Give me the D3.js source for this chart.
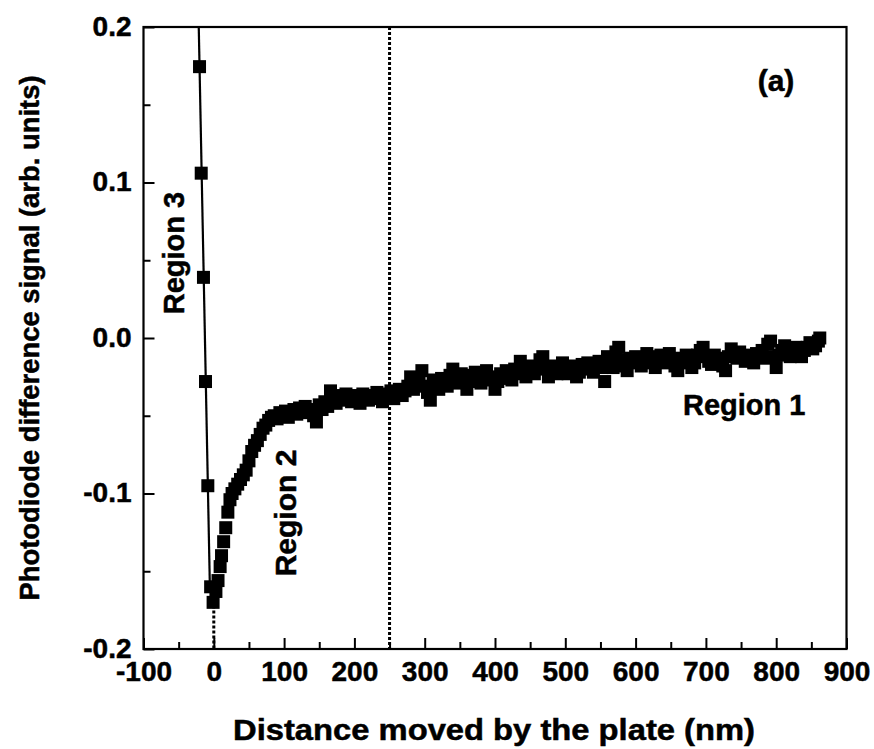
<!DOCTYPE html>
<html>
<head>
<meta charset="utf-8">
<script src="https://cdn.jsdelivr.net/npm/d3@7"></script>
<style>
  body { margin: 0; background: #fff; }
  svg { display: block; }
  text { font-family: "Liberation Sans", Arial, Helvetica, sans-serif; font-weight: bold; fill: #000; stroke: #000; stroke-width: 0.5px; }
</style>
</head>
<body>
<svg id="chart" width="874" height="749"></svg>
<script>
// Region 3: steep branch before contact (nm, arb. units)
const region3X = [-20.3, -17.9, -14.7, -11.8, -8.5, -4.5];
const region3Y = [0.1745, 0.106, 0.039, -0.028, -0.095, -0.160];

// straight fit through region 3
const fitX = [-21.4, -5.6];
const fitY = [0.2, -0.16];

// Region 2 (rise after contact)
const region2X = [
  -1, 3, 6, 9, 11, 14, 17, 20, 23, 26, 30, 34, 38, 42, 46, 50, 54, 58, 62, 66,
  70, 74, 78, 82, 86, 90, 94, 98, 102, 106, 110, 114, 118, 122, 126, 130, 134, 138, 142, 146,
  150, 154, 158, 162, 166, 170, 174, 177
];
const region2Y = [
  -0.170, -0.163, -0.156, -0.147, -0.140, -0.131, -0.122, -0.112, -0.104, -0.100, -0.097, -0.094, -0.091, -0.088, -0.085, -0.079, -0.073, -0.069, -0.066, -0.062,
  -0.058, -0.056, -0.053, -0.051, -0.050, -0.052, -0.048, -0.050, -0.047, -0.051, -0.048, -0.046, -0.049, -0.045, -0.047, -0.044, -0.048, -0.046, -0.050, -0.054,
  -0.043, -0.046, -0.041, -0.044, -0.034, -0.039, -0.042, -0.038
];

// Region 1 (slow drift)
const region1X = [
  180, 184, 188, 192, 196, 200, 204, 208, 212, 216, 220, 224, 228, 232, 236, 240, 244, 248, 252, 256,
  260, 264, 268, 272, 276, 280, 284, 288, 292, 296, 300, 304, 308, 312, 316, 320, 324, 328, 332, 336,
  340, 344, 348, 352, 356, 360, 364, 368, 372, 376, 380, 384, 388, 392, 396, 400, 404, 408, 412, 416,
  420, 424, 428, 432, 436, 440, 444, 448, 452, 456, 460, 464, 468, 472, 476, 480, 484, 488, 492, 496,
  500, 504, 508, 512, 516, 520, 524, 528, 532, 536, 540, 544, 548, 552, 556, 560, 564, 568, 572, 576,
  580, 584, 588, 592, 596, 600, 604, 608, 612, 616, 620, 624, 628, 632, 636, 640, 644, 648, 652, 656,
  660, 664, 668, 672, 676, 680, 684, 688, 692, 696, 700, 704, 708, 712, 716, 720, 724, 728, 732, 736,
  740, 744, 748, 752, 756, 760, 764, 768, 772, 776, 780, 784, 788, 792, 796, 800, 804, 808, 812, 816,
  820, 824, 828, 832, 836, 840, 844, 848, 852, 856, 860, 862
];
const region1Y = [
  -0.037, -0.040, -0.036, -0.039, -0.041, -0.037, -0.039, -0.042, -0.036, -0.038, -0.040, -0.037, -0.039, -0.035, -0.038, -0.041, -0.036, -0.038, -0.034, -0.039,
  -0.036, -0.033, -0.037, -0.034, -0.031, -0.025, -0.033, -0.030, -0.028, -0.021, -0.031, -0.035, -0.040, -0.027, -0.030, -0.033, -0.026, -0.029, -0.031, -0.024,
  -0.020, -0.027, -0.029, -0.023, -0.026, -0.033, -0.024, -0.028, -0.022, -0.026, -0.029, -0.024, -0.021, -0.027, -0.025, -0.033, -0.028, -0.023, -0.026, -0.021,
  -0.024, -0.027, -0.020, -0.023, -0.015, -0.019, -0.025, -0.021, -0.018, -0.023, -0.020, -0.014, -0.012, -0.019, -0.025, -0.021, -0.018, -0.023, -0.019, -0.016,
  -0.021, -0.023, -0.018, -0.020, -0.025, -0.022, -0.017, -0.020, -0.016, -0.019, -0.022, -0.018, -0.015, -0.019, -0.028, -0.012, -0.016, -0.019, -0.009, -0.006,
  -0.014, -0.018, -0.021, -0.013, -0.016, -0.012, -0.015, -0.018, -0.013, -0.010, -0.012, -0.016, -0.019, -0.014, -0.011, -0.016, -0.013, -0.010, -0.014, -0.018,
  -0.021, -0.013, -0.016, -0.011, -0.014, -0.019, -0.016, -0.011, -0.008, -0.006, -0.012, -0.015, -0.017, -0.011, -0.013, -0.016, -0.018, -0.021, -0.012, -0.007,
  -0.010, -0.013, -0.009, -0.012, -0.015, -0.011, -0.013, -0.016, -0.010, -0.012, -0.008, -0.013, -0.004, -0.002, -0.012, -0.019, -0.011, -0.008, -0.005, -0.009,
  -0.012, -0.009, -0.006, -0.010, -0.012, -0.008, -0.006, -0.003, -0.007, -0.005, -0.002, 0.000
];

const xTicks = [-100, 0, 100, 200, 300, 400, 500, 600, 700, 800, 900];
const xMinor = [-50, 50, 150, 250, 350, 450, 550, 650, 750, 850];
const yTicks = [-0.2, -0.1, 0.0, 0.1, 0.2];
const yMinor = [-0.15, -0.05, 0.05, 0.15];
const boundaryX = 250;   // dotted line between regions 2 and 1
const contactX = 0;      // dotted drop at zero distance

const svg = d3.select('#chart');
svg.append('rect').attr('width', 874).attr('height', 749).attr('fill', '#fff');

const margin = { top: 27, right: 27.5, bottom: 100, left: 143.5 };
const width = 874, height = 749;

const x = d3.scaleLinear().domain([-100, 900]).range([margin.left, width - margin.right]);
const y = d3.scaleLinear().domain([-0.2, 0.2]).range([height - margin.bottom, margin.top]);

// axes, ticks inward
const gx = svg.append('g').attr('transform', `translate(0,${y(-0.2)})`)
  .call(d3.axisBottom(x).tickValues(xTicks).tickSizeInner(-11).tickSizeOuter(0).tickPadding(12).tickFormat(d => String(d)));
svg.append('g').attr('transform', `translate(0,${y(-0.2)})`)
  .call(d3.axisBottom(x).tickValues(xMinor).tickSizeInner(-7).tickSizeOuter(0).tickFormat(''));
const gy = svg.append('g').attr('transform', `translate(${x(-100)},0)`)
  .call(d3.axisLeft(y).tickValues(yTicks).tickSizeInner(-11).tickSizeOuter(0).tickPadding(12).tickFormat(d => d.toFixed(1)));
svg.append('g').attr('transform', `translate(${x(-100)},0)`)
  .call(d3.axisLeft(y).tickValues(yMinor).tickSizeInner(-7).tickSizeOuter(0).tickFormat(''));

svg.selectAll('.domain').remove();
svg.selectAll('.tick line').attr('stroke', '#000').attr('stroke-width', 2);
gx.selectAll('text').style('font-size', '28px').attr('dy', '0.72em');
gy.selectAll('text').style('font-size', '28px').attr('dy', '0.3em');

// frame
svg.append('rect')
  .attr('x', x(-100)).attr('y', y(0.2))
  .attr('width', x(900) - x(-100)).attr('height', y(-0.2) - y(0.2))
  .attr('fill', 'none').attr('stroke', '#000').attr('stroke-width', 2.2);

// dotted guide lines
svg.append('line')
  .attr('x1', x(boundaryX)).attr('x2', x(boundaryX))
  .attr('y1', y(0.2)).attr('y2', y(-0.2))
  .attr('stroke', '#000').attr('stroke-width', 3).attr('stroke-dasharray', '3,2');
svg.append('line')
  .attr('x1', x(contactX)).attr('x2', x(contactX))
  .attr('y1', y(-0.172)).attr('y2', y(-0.2))
  .attr('stroke', '#000').attr('stroke-width', 3).attr('stroke-dasharray', '3,2');

// fit line for region 3
const fit = fitX.map((v, i) => [v, fitY[i]]);
svg.append('path')
  .attr('d', d3.line().x(d => x(d[0])).y(d => y(d[1]))(fit))
  .attr('fill', 'none').attr('stroke', '#000').attr('stroke-width', 2.2);

// markers
const pts = region3X.map((v, i) => [v, region3Y[i]])
  .concat(region2X.map((v, i) => [v, region2Y[i]]))
  .concat(region1X.map((v, i) => [v, region1Y[i]]));
const s = 13;
svg.append('g').selectAll('rect')
  .data(pts)
  .enter().append('rect')
  .attr('x', d => x(d[0]) - s / 2)
  .attr('y', d => y(d[1]) - s / 2)
  .attr('width', s).attr('height', s)
  .attr('fill', '#000');

// region labels
svg.append('text')
  .attr('transform', `translate(184,253) rotate(-90)`)
  .attr('text-anchor', 'middle').style('font-size', '29px').text('Region 3');
svg.append('text')
  .attr('transform', `translate(296,513) rotate(-90)`)
  .attr('text-anchor', 'middle').style('font-size', '30px').text('Region 2');
svg.append('text')
  .attr('x', 683).attr('y', 415)
  .style('font-size', '29px').text('Region 1');
svg.append('text')
  .attr('x', 776).attr('y', 91)
  .attr('text-anchor', 'middle').style('font-size', '30px').text('(a)');

// axis titles
svg.append('text')
  .attr('x', (x(-100) + x(900)) / 2 - 1).attr('y', 740)
  .attr('text-anchor', 'middle').style('font-size', '29px')
  .attr('textLength', 522).attr('lengthAdjust', 'spacingAndGlyphs')
  .text('Distance moved by the plate (nm)');
svg.append('text')
  .attr('transform', `translate(39,${(y(0.2) + y(-0.2)) / 2}) rotate(-90)`)
  .attr('text-anchor', 'middle').style('font-size', '28px')
  .attr('textLength', 525).attr('lengthAdjust', 'spacingAndGlyphs')
  .text('Photodiode difference signal (arb. units)');
</script>
</body>
</html>
